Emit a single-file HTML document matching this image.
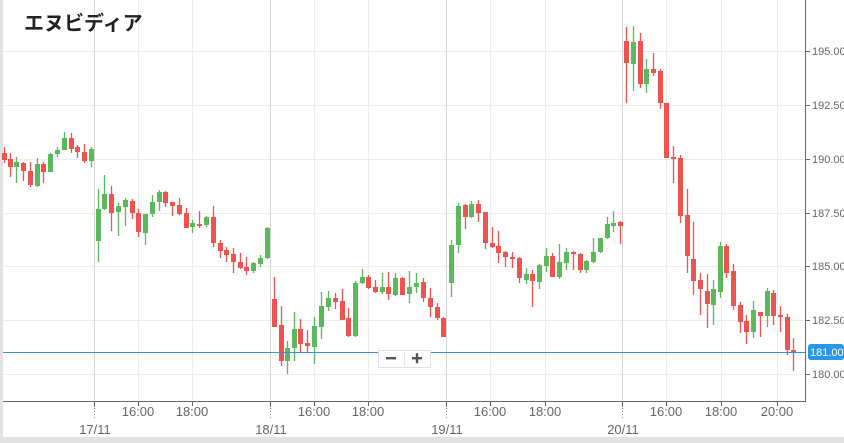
<!DOCTYPE html>
<html><head><meta charset="utf-8"><style>
html,body{margin:0;padding:0;background:#fff}
body{width:844px;height:443px;overflow:hidden;position:relative}
svg{position:absolute;left:0;top:0}
text{font-family:"Liberation Sans","Noto Sans CJK JP",sans-serif}
</style></head><body>
<svg id="s" width="844" height="443" xmlns="http://www.w3.org/2000/svg">
<rect x="0" y="0" width="844" height="443" fill="#fff"/>
<rect x="0" y="0" width="3" height="443" fill="#e2e2e2"/>
<rect x="0" y="437" width="844" height="6" fill="#e2e2e2"/>
<g stroke="#ececec" stroke-width="1">
<line x1="3" y1="51.5" x2="805" y2="51.5"/><line x1="3" y1="105.5" x2="805" y2="105.5"/>
<line x1="3" y1="159.5" x2="805" y2="159.5"/><line x1="3" y1="213.5" x2="805" y2="213.5"/>
<line x1="3" y1="266.5" x2="805" y2="266.5"/><line x1="3" y1="320.5" x2="805" y2="320.5"/>
<line x1="3" y1="374.5" x2="805" y2="374.5"/>
<line x1="138.5" y1="0" x2="138.5" y2="400"/><line x1="192.5" y1="0" x2="192.5" y2="400"/>
<line x1="314.5" y1="0" x2="314.5" y2="400"/><line x1="368.5" y1="0" x2="368.5" y2="400"/>
<line x1="490.5" y1="0" x2="490.5" y2="400"/><line x1="545.5" y1="0" x2="545.5" y2="400"/>
<line x1="666.5" y1="0" x2="666.5" y2="400"/><line x1="721.5" y1="0" x2="721.5" y2="400"/>
<line x1="777.5" y1="0" x2="777.5" y2="400"/>
</g>
<g stroke="#d6d6d6" stroke-width="1">
<line x1="94.5" y1="0" x2="94.5" y2="400"/><line x1="270.5" y1="0" x2="270.5" y2="400"/>
<line x1="446.5" y1="0" x2="446.5" y2="400"/><line x1="622.5" y1="0" x2="622.5" y2="400"/>
</g>
<g id="c"></g>
<line x1="3" y1="352.5" x2="806" y2="352.5" stroke="#3a8fd6" stroke-width="1"/>
<line x1="805.5" y1="0" x2="805.5" y2="401" stroke="#666" stroke-width="1"/>
<line x1="3" y1="401.5" x2="806" y2="401.5" stroke="#666" stroke-width="1"/>
<g stroke="#666" stroke-width="1">
<line x1="806" y1="51.5" x2="810" y2="51.5"/><line x1="806" y1="105.5" x2="810" y2="105.5"/>
<line x1="806" y1="159.5" x2="810" y2="159.5"/><line x1="806" y1="213.5" x2="810" y2="213.5"/>
<line x1="806" y1="266.5" x2="810" y2="266.5"/><line x1="806" y1="320.5" x2="810" y2="320.5"/>
<line x1="806" y1="374.5" x2="810" y2="374.5"/>
<line x1="94.5" y1="401" x2="94.5" y2="407"/><line x1="270.5" y1="401" x2="270.5" y2="407"/>
<line x1="446.5" y1="401" x2="446.5" y2="407"/><line x1="622.5" y1="401" x2="622.5" y2="407"/>
<line x1="138.5" y1="401" x2="138.5" y2="406"/><line x1="192.5" y1="401" x2="192.5" y2="406"/>
<line x1="314.5" y1="401" x2="314.5" y2="406"/><line x1="368.5" y1="401" x2="368.5" y2="406"/>
<line x1="490.5" y1="401" x2="490.5" y2="406"/><line x1="545.5" y1="401" x2="545.5" y2="406"/>
<line x1="666.5" y1="401" x2="666.5" y2="406"/><line x1="721.5" y1="401" x2="721.5" y2="406"/>
<line x1="777.5" y1="401" x2="777.5" y2="406"/>
</g>
<g stroke="#888" stroke-width="1" stroke-dasharray="1,2">
<line x1="94.5" y1="408" x2="94.5" y2="420"/><line x1="270.5" y1="408" x2="270.5" y2="420"/>
<line x1="446.5" y1="408" x2="446.5" y2="420"/><line x1="622.5" y1="408" x2="622.5" y2="420"/>
</g>
<g font-size="11" fill="#666">
<text x="812" y="55">195.00</text><text x="812" y="109">192.50</text>
<text x="812" y="163">190.00</text><text x="812" y="217">187.50</text>
<text x="812" y="270">185.00</text><text x="812" y="324">182.50</text>
<text x="812" y="378">180.00</text>
</g>
<rect x="808" y="344" width="36" height="16" rx="3" fill="#2a97e6"/>
<text x="810" y="356" font-size="11" fill="#fff">181.00</text>
<g font-size="13" fill="#666" text-anchor="middle">
<text x="138" y="416">16:00</text><text x="192" y="416">18:00</text>
<text x="314" y="416">16:00</text><text x="368" y="416">18:00</text>
<text x="490" y="416">16:00</text><text x="545" y="416">18:00</text>
<text x="666" y="416">16:00</text><text x="721" y="416">18:00</text><text x="777" y="416">20:00</text>
<text x="95" y="434">17/11</text><text x="271" y="434">18/11</text>
<text x="447" y="434">19/11</text><text x="623" y="434">20/11</text>
</g>
<rect x="378.5" y="350.5" width="52" height="17" fill="#fff" stroke="#e0e0e0"/>
<line x1="404.5" y1="352" x2="404.5" y2="366" stroke="#e6e6e6"/>
<rect x="386" y="357" width="10" height="2.4" fill="#555"/>
<rect x="412" y="357" width="10" height="2.4" fill="#555"/>
<rect x="415.8" y="353.2" width="2.4" height="10" fill="#555"/>
<text x="24" y="30" font-size="20" font-weight="bold" fill="#222">エヌビディア</text>
</svg>
<script>
var d=[
[4,'r',153,160,147,163],[10,'r',159,167,153,177],[16,'g',162,167,157,183],[23,'r',163,171,162,181],[30,'r',171,185,162,187],[37,'g',164,186,158,187],[43,'r',164,172,162,183],[50,'g',154,172,153,172],[57,'g',150,154,147,157],[64,'g',138,150,132,150],[71,'r',138,149,133,153],[77,'r',147,152,145,158],[84,'r',152,161,144,163],[91,'g',149,161,147,167],
[98,'g',209,241,189,262],[104,'g',194,209,175,210],[111,'r',194,213,186,231],[118,'g',206,212,203,236],[125,'g',200,207,198,226],[132,'r',201,213,199,219],[138,'r',213,232,209,237],[145,'g',214,233,214,245],[152,'g',202,214,195,217],[159,'g',192,202,190,211],[165,'r',192,203,191,207],[172,'r',202,206,202,216],[179,'r',205,214,198,215],[186,'r',213,228,208,228],[192,'g',223,227,220,233],[199,'r',224,225,211,228],[206,'g',217,225,216,227],[213,'r',217,243,206,247],[220,'r',243,251,240,258],[226,'r',250,255,247,262],[233,'r',254,262,248,273],[240,'r',262,268,253,269],[246,'r',267,271,257,275],[253,'g',263,271,262,273],[260,'g',258,264,255,267],[267,'g',228,258,227,259],
[274,'r',299,327,277,327],[281,'r',325,361,306,366],[287,'g',348,361,341,374],[294,'g',329,348,312,361],[300,'r',329,344,319,353],[307,'r',343,346,330,353],[314,'g',326,347,317,364],[321,'g',306,327,292,339],[328,'g',298,307,291,311],[335,'r',298,302,293,309],[342,'r',301,320,289,320],[348,'r',318,336,308,337],[355,'g',283,336,281,337],[362,'g',277,283,269,284],[368,'r',277,288,275,289],[375,'r',287,292,280,293],[382,'g',287,292,273,294],[388,'r',287,294,272,300],[395,'g',278,295,273,296],[402,'r',278,295,277,295],[409,'g',287,294,271,303],[416,'g',283,287,273,293],[423,'r',282,298,278,302],[430,'r',298,307,288,317],[437,'r',307,318,303,320],[443,'r',318,337,317,337],
[451,'g',245,283,240,297],[458,'g',206,245,203,253],[465,'r',205,217,204,229],[471,'g',204,217,201,218],[478,'r',204,213,200,222],[485,'r',212,243,212,249],[492,'r',243,247,227,248],[498,'r',246,253,231,263],[505,'r',252,257,251,267],[512,'r',257,259,252,268],[519,'r',258,278,257,283],[526,'g',274,280,268,284],[532,'r',274,281,270,307],[539,'g',265,282,264,289],[546,'g',256,266,248,272],[552,'r',256,277,253,277],[559,'g',262,277,244,279],[566,'g',252,263,248,270],[573,'r',252,254,251,270],[580,'r',254,270,253,273],[586,'g',261,270,260,273],[593,'g',252,262,238,263],[600,'g',238,252,238,253],[607,'g',224,238,217,239],[613,'g',223,226,211,232],[620,'r',222,226,221,244],
[626,'r',41,63,27,103],[633,'g',42,64,26,91],[640,'r',41,84,33,88],[646,'g',69,84,59,93],[653,'r',69,73,53,76],[660,'r',71,103,69,109],[666,'r',103,158,103,158],[673,'r',157,159,146,183],[680,'r',158,216,155,223],[687,'r',215,256,189,273],[693,'r',259,281,222,295],[700,'r',280,289,273,315],[707,'r',291,304,274,328],[713,'g',289,305,280,325],[720,'g',246,292,242,298],[726,'r',246,273,244,278],[733,'r',271,306,264,310],[740,'r',305,322,302,333],[746,'r',321,332,315,344],[753,'g',310,332,301,338],[760,'r',312,316,312,337],[767,'g',291,316,288,327],[773,'r',293,316,290,325],[780,'r',315,317,306,332],[787,'r',317,350,314,355],[793,'r',350,352,338,371]
];
var h='';
d.forEach(function(c){var col=c[1]=='r'?'#ef5350':'#5cb85c';var x=c[0];
h+='<line x1="'+(x+0.5)+'" y1="'+c[4]+'" x2="'+(x+0.5)+'" y2="'+c[5]+'" stroke="'+col+'" stroke-width="1.3"/>';
var t=c[2],b=Math.max(c[3],c[2]+2);
h+='<rect x="'+(x-2)+'" y="'+t+'" width="5" height="'+(b-t)+'" fill="'+col+'"/>';});
document.getElementById('c').innerHTML=h;
</script>
</body></html>
